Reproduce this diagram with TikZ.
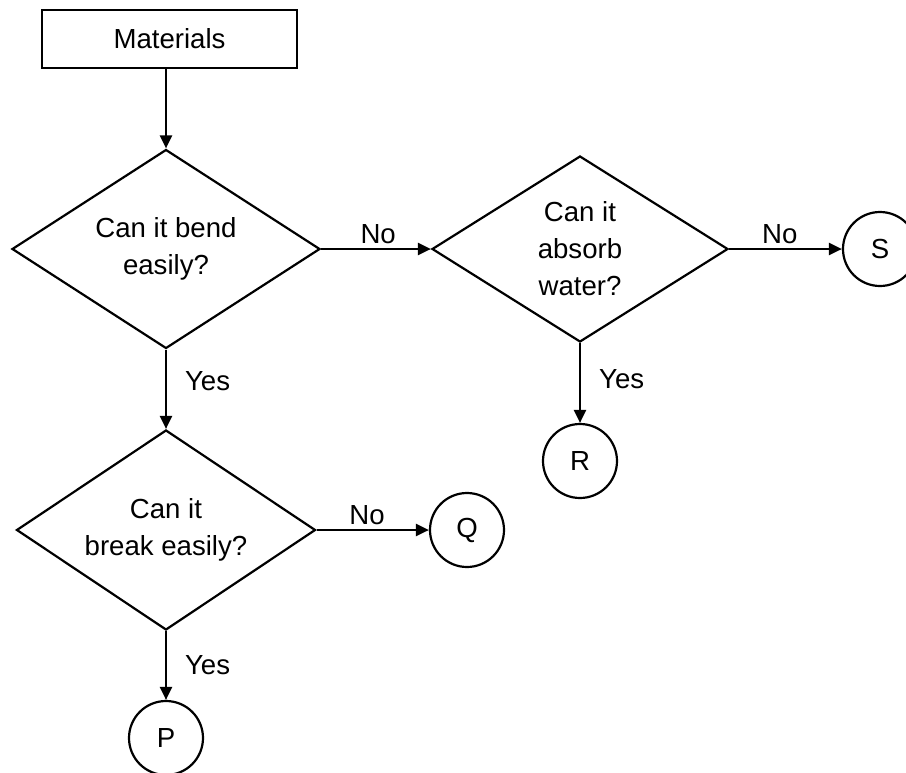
\documentclass[tikz,border=0pt]{standalone}
\usepackage{fontspec}
\setmainfont{Liberation Sans}
\usepackage{tikz}
\usetikzlibrary{positioning,arrows.meta,shapes.geometric}
\tikzset{
  flowtxt/.style={font=\fontsize{13.8}{18.5}\selectfont},
  flowbox/.style={rectangle, draw=black, line width=1.1pt, minimum width=127.5pt,
                  minimum height=29pt, inner sep=0pt, flowtxt},
  flowdec/.style={diamond, aspect=1.5, draw=black, line width=1.1pt, inner sep=0pt,
                  align=center, flowtxt},
  flowend/.style={circle, draw=black, line width=1.1pt, minimum size=37pt,
                  inner sep=0pt, flowtxt},
  flowarr/.style={draw=black, line width=1.1pt, -{Triangle[length=6.5pt,width=6pt]}},
  flowlab/.style={flowtxt, inner sep=2pt},
  flowyes/.style={flowtxt, right, inner sep=2pt, xshift=7pt},
}

\begin{document}
\begin{tikzpicture}[x=0.5pt, y=-0.5pt]
  \useasboundingbox (0,0) rectangle (906,772);
  \node[flowbox] (M) at (169.5,39) {Materials};
  \node[flowdec, minimum width=154pt, minimum height=99.5pt] (D1) at (166,249) {Can it bend\\easily?};
  \node[flowdec, minimum width=148pt, minimum height=93pt] (D2) at (580,249) {Can it\\absorb\\water?};
  \node[flowdec, minimum width=149.5pt, minimum height=100pt] (D3) at (166,530) {Can it\\break easily?};
  \node[flowend] (S) at (880,249) {S};
  \node[flowend] (R) at (580,461) {R};
  \node[flowend] (Q) at (467,530) {Q};
  \node[flowend] (P) at (166,738) {P};
  \draw[flowarr] (D1.north |- M.south) -- (D1);
  \draw[flowarr] (D1.east) -- node[flowlab, above, pos=0.52]{No} (D2.west);
  \draw[flowarr] (D2.east) -- node[flowlab, above, pos=0.45]{No} (S);
  \draw[flowarr] (D2.south) -- node[flowyes, pos=0.45]{Yes} (R);
  \draw[flowarr] (D1.south) -- node[flowyes, pos=0.4]{Yes} (D3.north);
  \draw[flowarr] (D3.east) -- node[flowlab, above, pos=0.45]{No} (Q);
  \draw[flowarr] (D3.south) -- node[flowyes, pos=0.5]{Yes} (P);
\end{tikzpicture}
\end{document}
